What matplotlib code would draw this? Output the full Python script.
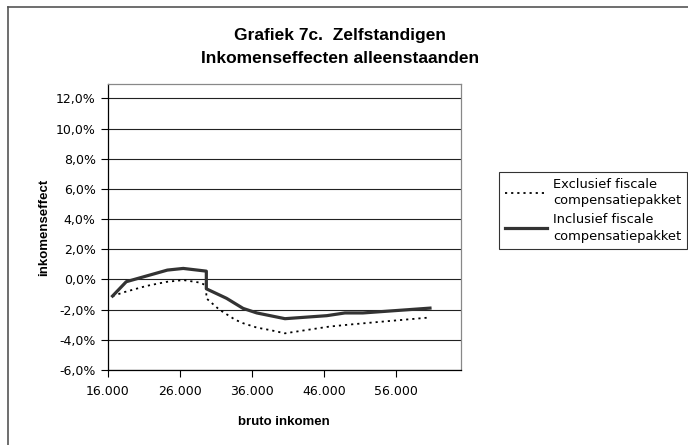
import matplotlib
matplotlib.use("Agg")
import matplotlib.pyplot as plt
from matplotlib.lines import Line2D
from matplotlib.ticker import FuncFormatter

# bruto inkomen / inkomenseffect (%)
inkomen_excl = [16700, 18400, 21400, 24200, 26500, 28800, 29700, 29700, 31500,
                33700, 34800, 36700, 38500, 40600, 43600, 46800, 50000, 54200, 60700]
effect_excl = [-1.10, -0.83, -0.43, -0.16, -0.04, -0.21, -0.40, -1.25, -2.00,
               -2.67, -2.90, -3.19, -3.35, -3.57, -3.35, -3.12, -2.97, -2.79, -2.52]

inkomen_incl = [16700, 18600, 24300, 26500, 29700, 29700, 32500, 34800, 36700,
                40600, 46400, 48900, 51400, 60700]
effect_incl = [-1.10, -0.15, 0.62, 0.73, 0.55, -0.62, -1.25, -1.92, -2.22,
               -2.60, -2.40, -2.22, -2.22, -1.90]

xticks = [16000, 26000, 36000, 46000, 56000]
yticks = [-6, -4, -2, 0, 2, 4, 6, 8, 10, 12]

W, H = 688, 445
fig = plt.figure(figsize=(W / 100, H / 100), dpi=100)
ax = fig.add_axes([107.5 / W, 1 - 370 / H, (461 - 107.5) / W, (370 - 84.3) / H])

# outer chart frame (only top and left visible)
fig.add_artist(Line2D([8 / W, 1], [1 - 7 / H, 1 - 7 / H], color="#555555", lw=1.2))
fig.add_artist(Line2D([8 / W, 8 / W], [0, 1 - 7 / H], color="#555555", lw=1.2))

for y in yticks:
    ax.axhline(y, color="#222222", lw=0.8, zorder=1)

ax.plot(inkomen_excl, effect_excl, color="black", lw=1.3, linestyle=(0, (1.2, 2.2)),
        label="Exclusief fiscale\ncompensatiepakket", zorder=3)
ax.plot(inkomen_incl, effect_incl, color="#333333", lw=2.3,
        label="Inclusief fiscale\ncompensatiepakket", zorder=3)

ax.set_xlim(16000, 65000)
ax.set_ylim(-6, 12.93)
ax.set_xticks(xticks)
ax.set_yticks(yticks)
ax.xaxis.set_major_formatter(FuncFormatter(lambda v, p: "{:,.0f}".format(v).replace(",", ".")))
ax.yaxis.set_major_formatter(FuncFormatter(lambda v, p: "{:.1f}%".format(v).replace(".", ",")))
ax.tick_params(labelsize=9, length=5, width=0.8, direction="out", color="black")
ax.tick_params(axis="x", pad=6)

for s in ["top", "right"]:
    ax.spines[s].set_color("#888888")
for s in ["left", "bottom"]:
    ax.spines[s].set_color("black")
for s in ax.spines.values():
    s.set_linewidth(0.9)

ax.set_xlabel("bruto inkomen", fontsize=9.5, fontweight="bold", family="Liberation Sans", labelpad=13)
ax.set_ylabel("inkomenseffect", fontsize=9.5, fontweight="bold", family="Liberation Sans", labelpad=4)

fig.text(340 / W, 1 - 47 / H, "Grafiek 7c.  Zelfstandigen\nInkomenseffecten alleenstaanden",
         ha="center", va="center", fontsize=12.5, fontweight="bold", family="Liberation Sans",
         linespacing=1.6)

leg = ax.legend(loc="upper left", bbox_to_anchor=(499 / W, 1 - 172 / H), bbox_transform=fig.transFigure,
                fontsize=9.4, frameon=True, fancybox=False, borderaxespad=0, handlelength=3.2,
                handletextpad=0.5, labelspacing=0.45, borderpad=0.45)
for t in leg.get_texts():
    t.set_linespacing(1.35)
leg.get_frame().set_edgecolor("black")
leg.get_frame().set_linewidth(0.8)

fig.savefig("out.png", dpi=100)
